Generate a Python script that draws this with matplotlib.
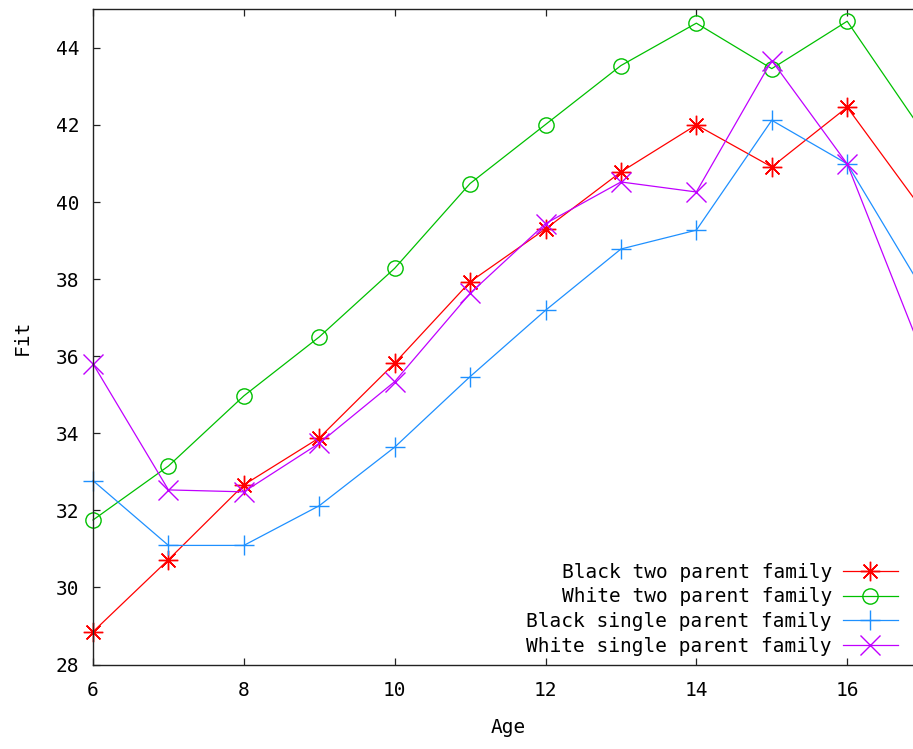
import matplotlib
matplotlib.use('Agg')
import matplotlib.pyplot as plt

ages = [6, 7, 8, 9, 10, 11, 12, 13, 14, 15, 16, 17]
black_two = [28.85, 30.72, 32.66, 33.88, 35.82, 37.93, 39.30, 40.78, 42.00, 40.91, 42.46, 39.79]
white_two = [31.75, 33.15, 34.97, 36.50, 38.28, 40.48, 42.01, 43.54, 44.64, 43.46, 44.69, 41.83]
black_single = [32.77, 31.09, 31.09, 32.12, 33.64, 35.47, 37.19, 38.78, 39.27, 42.12, 40.99, 37.73]
white_single = [35.80, 32.53, 32.48, 33.74, 35.34, 37.63, 39.44, 40.52, 40.26, 43.67, 40.99, 36.05]

labels = ['Black two parent family', 'White two parent family',
          'Black single parent family', 'White single parent family']
colors = ['#ff0000', '#00c000', '#1e90ff', '#c000ff']
markers = [(8, 2, 0), 'o', '+', 'x']

plt.rcParams['font.family'] = ['DejaVu Sans Mono']
plt.rcParams['font.size'] = 14

fig = plt.figure(figsize=(9.13, 7.49), dpi=100)
ax = fig.add_axes([0.1019, 0.1128, 0.9086, 0.8748])

for ys, lab, c, m in zip([black_two, white_two, black_single, white_single], labels, colors, markers):
    ax.plot(ages, ys, color=c, lw=0.9, marker=m, markersize=14 if m != 'o' else 11,
            mfc='none', mec=c, mew=1.0, label=lab, clip_on=False)

ax.set_xlim(6, 17)
ax.set_ylim(28, 45)
ax.set_xticks([6, 8, 10, 12, 14, 16])
ax.set_yticks([28, 30, 32, 34, 36, 38, 40, 42, 44])
ax.tick_params(direction='in', length=5, width=0.9, top=True, right=True, color='#222222')
ax.tick_params(axis='y', pad=10)
ax.tick_params(axis='x', pad=12)
for s in ax.spines.values():
    s.set_linewidth(1.0)
    s.set_color('#222222')

ax.set_xlabel('Age')
ax.xaxis.set_label_coords(0.5, -0.096)
ax.xaxis.label.set_verticalalignment('center')
ax.set_ylabel('Fit')
ax.yaxis.set_label_coords(-0.0856, 0.5)
ax.yaxis.label.set_verticalalignment('center')

ax.legend(loc='lower right', bbox_to_anchor=(898 / 913, (749 - 656) / 749),
          bbox_transform=fig.transFigure, frameon=False, markerfirst=False,
          borderpad=0, borderaxespad=0, handlelength=2.83, handletextpad=0.57,
          labelspacing=0.3, numpoints=1)

fig.savefig('out.png', dpi=100)
